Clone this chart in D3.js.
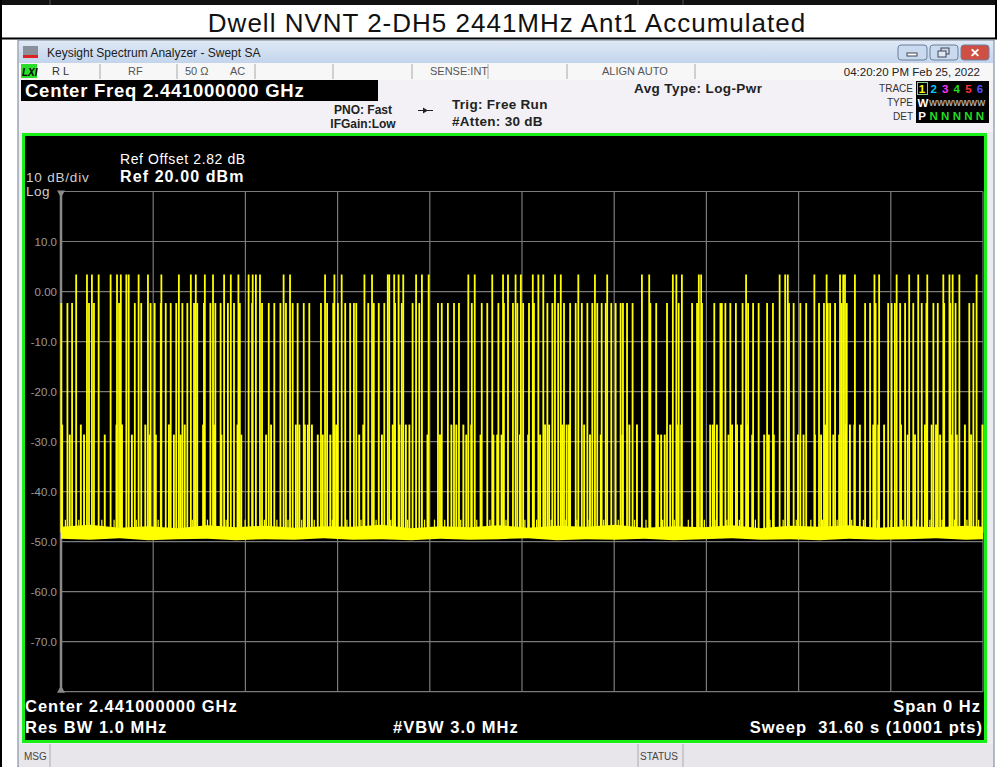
<!DOCTYPE html>
<html>
<head>
<meta charset="utf-8">
<script src="https://cdn.jsdelivr.net/npm/d3@7"></script>
<style>
body { margin: 0; background: #fff; }
svg { display: block; font-family: "Liberation Sans", Arial, sans-serif; }
</style>
</head>
<body>
<div id="chart"></div>
<script>
//////////////////////////////////////////////////////////////////////////////
// Data

var title = "Dwell NVNT 2-DH5 2441MHz Ant1 Accumulated";
var sweepTime = 31.6;            // s, zero span
var refLevel = 20, dbPerDiv = 10, divisions = 10;
var yTicks = [10, 0, -10, -20, -30, -40, -50, -60, -70];
var yTickLabels = ["10.0", "0.00", "-10.0", "-20.0", "-30.0", "-40.0", "-50.0", "-60.0", "-70.0"];

// burst peak levels (dBm)
var levelHigh = 3.4, levelMid = -2.3, levelLowA = -26.6, levelLowB = -28.6;

// burst times (s)
var highPulses = [0.52, 0.89, 1.06, 1.29, 1.70, 1.92, 2.05, 2.24, 2.32, 2.66, 2.98, 3.44, 4.04, 4.45, 4.62,
    4.93, 5.21, 5.59, 5.82, 6.08, 6.43, 6.57, 6.68, 6.82, 7.63, 7.85, 9.05, 9.37, 9.62, 10.40, 10.66,
    11.20, 11.25, 11.42, 11.57, 11.73, 12.17, 12.37, 12.60, 13.96, 14.18, 14.78, 15.15, 15.32, 15.58,
    15.76, 16.17, 16.36, 16.53, 16.93, 17.13, 17.73, 18.30, 18.72, 19.91, 20.16, 20.97, 21.09, 21.28,
    21.86, 21.94, 23.48, 24.63, 24.82, 24.91, 25.82, 26.24, 26.70, 26.81, 26.87, 27.21, 27.88, 28.04,
    28.64, 29.07, 29.38, 29.69, 30.24, 30.45, 30.56, 30.79, 31.38];

var midPulses = [0.01, 0.22, 0.38, 0.96, 1.13, 1.99, 2.53, 2.75, 3.07, 3.21, 3.42, 3.59, 3.76, 3.95, 4.16,
    4.33, 4.56, 4.67, 4.90, 5.12, 5.29, 5.47, 5.72, 5.93, 6.13, 6.55, 6.89, 7.12, 7.31, 7.52, 7.71,
    7.94, 8.11, 8.32, 8.51, 8.91, 9.12, 9.33, 9.49, 9.74, 9.91, 10.04, 10.12, 10.53, 10.72, 10.89,
    11.08, 11.45, 11.68, 12.05, 12.28, 12.92, 13.05, 13.26, 13.47, 13.64, 14.08, 14.42, 14.61, 14.99,
    15.18, 15.49, 15.64, 15.84, 16.04, 16.21, 16.67, 16.84, 17.04, 17.24, 17.45, 17.64, 17.85, 18.04,
    18.21, 18.38, 18.53, 18.67, 18.86, 19.01, 19.18, 19.26, 19.40, 19.59, 20.20, 20.40, 20.77, 21.17,
    21.63, 21.80, 21.97, 22.39, 22.60, 22.65, 22.77, 22.94, 23.13, 23.36, 23.55, 23.72, 23.91, 24.20,
    24.40, 24.95, 25.11, 25.34, 25.54, 25.98, 26.15, 26.28, 26.36, 26.53, 26.76, 26.93, 27.56, 27.73,
    27.92, 28.35, 28.47, 28.58, 28.76, 28.93, 29.21, 29.50, 29.66, 29.90, 30.05, 30.27, 30.48, 30.66,
    31.13, 31.27];

var lowPulsesA = [0.04, 0.68, 1.90, 2.09, 2.89, 3.70, 4.24, 4.87, 5.25, 6.05, 7.20, 8.05, 8.17, 8.36,
    8.46, 8.60, 9.43, 10.36, 11.37, 11.60, 11.82, 11.94, 13.38, 13.55, 13.79, 14.06, 16.59, 16.73,
    17.18, 17.33, 17.41, 17.93, 19.48, 19.74, 20.88, 21.11, 21.26, 22.25, 22.34, 22.48, 23.00, 23.17,
    23.31, 23.51, 26.19, 26.90, 27.04, 27.19, 27.38, 27.84, 28.01, 28.21, 28.79, 29.61, 29.84, 29.99,
    30.98, 31.58];

var lowPulsesB = [0.30, 0.79, 1.50, 2.43, 3.04, 3.25, 3.87, 4.10, 5.50, 6.18, 7.03, 8.80, 8.97, 9.23,
    10.22, 11.00, 12.56, 12.99, 13.89, 14.38, 14.82, 14.95, 15.10, 15.73, 16.01, 16.42, 18.13, 18.50,
    19.24, 20.46, 20.57, 20.69, 22.88, 23.69, 24.10, 24.26, 24.43, 25.26, 25.45, 25.84, 26.05, 26.47,
    26.67, 29.02, 29.27, 30.13, 30.50, 30.70, 31.19];

// small spurs sticking out of the noise floor (s)
var floorSpurs = [0.15, 0.61, 1.40, 1.82, 2.58, 3.33, 3.96, 4.50, 5.02, 5.66, 6.31, 6.97, 7.40, 7.78,
    8.25, 8.68, 9.30, 9.80, 10.28, 10.80, 11.30, 11.88, 12.46, 12.80, 13.15, 13.70, 14.25, 14.70,
    15.25, 15.90, 16.30, 16.80, 17.30, 17.68, 18.10, 18.60, 19.10, 19.66, 20.05, 20.62, 21.02, 21.50,
    22.05, 22.45, 22.82, 23.25, 23.80, 24.30, 24.75, 25.20, 25.70, 26.10, 26.60, 27.10, 27.50, 27.98,
    28.45, 28.85, 29.35, 29.78, 30.20, 30.62, 31.05, 31.45];
var floorSpurLevel = -45.6;

// noise floor band (dBm)
var noiseTimes = [0, 1, 2, 3, 4, 5, 6, 7, 8, 9, 10, 11, 12, 13, 14, 15, 16, 17, 18, 19, 20, 21, 22,
    23, 24, 25, 26, 27, 28, 29, 30, 31, 31.6];
var noiseTop = [-47.0, -46.6, -47.2, -46.9, -47.3, -46.7, -47.1, -46.8, -47.2, -46.9, -47.0, -46.6,
    -47.3, -46.9, -47.1, -46.7, -47.2, -46.8, -47.0, -46.6, -47.2, -46.9, -47.1, -46.7, -47.3, -46.8,
    -47.0, -46.7, -47.2, -46.9, -47.1, -46.8, -47.0];
var noiseBottom = [-49.4, -49.6, -49.3, -49.7, -49.5, -49.4, -49.7, -49.5, -49.6, -49.3, -49.6, -49.5,
    -49.7, -49.4, -49.6, -49.5, -49.3, -49.7, -49.5, -49.6, -49.4, -49.7, -49.5, -49.3, -49.6, -49.5,
    -49.7, -49.4, -49.6, -49.5, -49.3, -49.6, -49.5];

//////////////////////////////////////////////////////////////////////////////
// Layout

var W = 997, H = 767;
var plotL = 61, plotR = 983, plotT = 191.5, plotB = 691.7;

var xScale = d3.scaleLinear().domain([0, sweepTime]).range([plotL, plotR]);
var yScale = d3.scaleLinear().domain([refLevel - dbPerDiv * divisions, refLevel]).range([plotB, plotT]);

var svg = d3.select("#chart").append("svg")
    .attr("width", W)
    .attr("height", H);

function txt(x, y, s, size, opts) {
    opts = opts || {};
    return svg.append("text")
        .attr("x", x).attr("y", y)
        .attr("font-size", size)
        .attr("font-weight", opts.bold ? "bold" : "normal")
        .attr("font-style", opts.italic ? "italic" : "normal")
        .attr("letter-spacing", opts.ls || 0)
        .attr("text-anchor", opts.anchor || "start")
        .attr("fill", opts.fill || "#000")
        .text(s);
}

//////////////////////////////////////////////////////////////////////////////
// Report table around the screenshot

svg.append("rect").attr("x", 0).attr("y", 0).attr("width", W).attr("height", 5).attr("fill", "#111");
[50, 638, 683].forEach(function(x) {
    svg.append("line").attr("x1", x).attr("x2", x).attr("y1", 0).attr("y2", 5).attr("stroke", "#555");
});
svg.append("rect").attr("x", 0).attr("y", 5).attr("width", W).attr("height", 33).attr("fill", "#fff");
svg.append("line").attr("x1", 0).attr("x2", W).attr("y1", 38.5).attr("y2", 38.5).attr("stroke", "#000").attr("stroke-width", 2);
svg.append("line").attr("x1", 1).attr("x2", 1).attr("y1", 0).attr("y2", H).attr("stroke", "#000").attr("stroke-width", 2);
svg.append("line").attr("x1", 996).attr("x2", 996).attr("y1", 0).attr("y2", 39).attr("stroke", "#000").attr("stroke-width", 2);
txt(507, 32, title, 26, { anchor: "middle", fill: "#111", ls: 1 });

//////////////////////////////////////////////////////////////////////////////
// Analyzer window chrome

svg.append("rect").attr("x", 18).attr("y", 40).attr("width", 976).attr("height", 727).attr("fill", "#ecebf0")
    .attr("stroke", "#6f7f94").attr("stroke-width", 1);

var grad = svg.append("defs").append("linearGradient").attr("id", "tbar").attr("x1", 0).attr("x2", 0).attr("y1", 0).attr("y2", 1);
grad.append("stop").attr("offset", "0%").attr("stop-color", "#dfe9f6");
grad.append("stop").attr("offset", "100%").attr("stop-color", "#c3d4eb");
svg.append("rect").attr("x", 19).attr("y", 41).attr("width", 974).attr("height", 22).attr("fill", "url(#tbar)");

// app icon
svg.append("rect").attr("x", 23).attr("y", 46).attr("width", 15).attr("height", 11).attr("fill", "#8a8f99");
svg.append("rect").attr("x", 23).attr("y", 55).attr("width", 15).attr("height", 3).attr("fill", "#d22");
txt(47, 57, "Keysight Spectrum Analyzer - Swept SA", 12, { fill: "#1b1b1b" });

// window buttons
[[898, 29, "#c9d9ee"], [930, 28, "#c9d9ee"], [961, 28, "#cf4f44"]].forEach(function(b) {
    svg.append("rect").attr("x", b[0]).attr("y", 45).attr("width", b[1]).attr("height", 15).attr("rx", 3)
        .attr("fill", b[2]).attr("stroke", "#6d7f9c");
});
svg.append("rect").attr("x", 907).attr("y", 53).attr("width", 10).attr("height", 3).attr("fill", "#fff").attr("stroke", "#445");
svg.append("rect").attr("x", 941).attr("y", 48).attr("width", 8).attr("height", 6).attr("fill", "none").attr("stroke", "#445");
svg.append("rect").attr("x", 938).attr("y", 51).attr("width", 8).attr("height", 6).attr("fill", "#dfe9f6").attr("stroke", "#445");
txt(975, 57, "✕", 12, { anchor: "middle", fill: "#fff", bold: true });

// status row
svg.append("rect").attr("x", 19).attr("y", 63).attr("width", 974).attr("height", 17).attr("fill", "#f7f7f8");
[100, 177, 255, 333, 412, 488, 567, 695].forEach(function(x) {
    svg.append("line").attr("x1", x).attr("x2", x).attr("y1", 64).attr("y2", 79).attr("stroke", "#a8a8a8");
});
svg.append("rect").attr("x", 21).attr("y", 64).attr("width", 16).attr("height", 14).attr("fill", "#2bdc2b");
txt(22, 76, "LXI", 10, { bold: true, italic: true, fill: "#000" });
txt(52, 75, "R L", 11, { fill: "#333" });
txt(128, 75, "RF", 11, { fill: "#555" });
txt(185, 75, "50 Ω", 11, { fill: "#555" });
txt(230, 75, "AC", 11, { fill: "#555" });
txt(430, 75, "SENSE:INT", 11, { fill: "#555" });
txt(602, 75, "ALIGN AUTO", 11, { fill: "#555" });
txt(980, 76, "04:20:20 PM Feb 25, 2022", 11.5, { anchor: "end", fill: "#222" });

// settings panel
svg.append("rect").attr("x", 19).attr("y", 80).attr("width", 974).attr("height", 52).attr("fill", "#f3f1f5");
svg.append("rect").attr("x", 21).attr("y", 80).attr("width", 357).attr("height", 21).attr("fill", "#000");
txt(25, 97, "Center Freq 2.441000000 GHz", 18.5, { bold: true, fill: "#fff", ls: 0.75 });
txt(363, 114, "PNO: Fast", 12, { anchor: "middle", bold: true, fill: "#222" });
txt(363, 128, "IFGain:Low", 12, { anchor: "middle", bold: true, fill: "#222" });
svg.append("line").attr("x1", 418).attr("x2", 433).attr("y1", 110.5).attr("y2", 110.5).attr("stroke", "#222");
svg.append("path").attr("d", "M423,107.5 L428,110.5 L423,113.5 Z").attr("fill", "#222");
txt(452, 109, "Trig: Free Run", 13.5, { bold: true, fill: "#222", ls: 0.3 });
txt(452, 126, "#Atten: 30 dB", 13.5, { bold: true, fill: "#222", ls: 0.3 });
txt(634, 93, "Avg Type: Log-Pwr", 13.5, { bold: true, fill: "#222", ls: 0.4 });
txt(913, 92, "TRACE", 10, { anchor: "end", fill: "#333" });
txt(913, 106, "TYPE", 10, { anchor: "end", fill: "#333" });
txt(913, 120, "DET", 10, { anchor: "end", fill: "#333" });

// trace legend box
var traceNums = ["1", "2", "3", "4", "5", "6"];
var traceColors = ["#ffff00", "#00c8ff", "#ff33ff", "#22dd22", "#ff3333", "#5555ff"];
var traceDet = ["P", "N", "N", "N", "N", "N"];
var legX = d3.scalePoint().domain(traceNums).range([922, 980]);
svg.append("rect").attr("x", 916).attr("y", 81).attr("width", 73).attr("height", 42).attr("fill", "#000");
svg.append("rect").attr("x", 917.5).attr("y", 82.5).attr("width", 10).attr("height", 12).attr("fill", "none").attr("stroke", "#8c8")
    .attr("stroke-width", 1);
traceNums.forEach(function(n, i) {
    txt(legX(n), 93, n, 11.5, { anchor: "middle", bold: true, fill: traceColors[i] });
    txt(legX(n), 120, traceDet[i], 11.5, { anchor: "middle", bold: true, fill: i === 0 ? "#fff" : "#22dd22" });
});
txt(923, 107, "W", 11.5, { anchor: "middle", bold: true, fill: "#fff" });
txt(929, 106, "WWWWWWW", 8.5, { fill: "#aaa", bold: true });

//////////////////////////////////////////////////////////////////////////////
// Display area

svg.append("rect").attr("x", 23.5).attr("y", 134.5).attr("width", 962).attr("height", 607)
    .attr("fill", "#000").attr("stroke", "#18f018").attr("stroke-width", 3);

// grid
var gridColor = "#7a7a7a";
var grid = svg.append("g");
grid.selectAll(".h").data(d3.range(0, divisions + 1)).enter().append("line")
    .attr("x1", plotL).attr("x2", plotR)
    .attr("y1", function(d) { return yScale(refLevel - d * dbPerDiv); })
    .attr("y2", function(d) { return yScale(refLevel - d * dbPerDiv); })
    .attr("stroke", gridColor).attr("stroke-width", 1.2);
grid.selectAll(".v").data(d3.range(0, divisions + 1)).enter().append("line")
    .attr("x1", function(d) { return xScale(d * sweepTime / divisions); })
    .attr("x2", function(d) { return xScale(d * sweepTime / divisions); })
    .attr("y1", plotT).attr("y2", plotB)
    .attr("stroke", gridColor).attr("stroke-width", 1.2);
svg.append("line").attr("x1", plotL).attr("x2", plotL).attr("y1", plotT).attr("y2", plotB)
    .attr("stroke", "#8a8a8a").attr("stroke-width", 2.5);
svg.append("path").attr("d", "M" + (plotL - 4) + "," + (plotT - 1) + " L" + (plotL + 4) + "," + (plotT - 1) + " L" + plotL + "," + (plotT + 6) + " Z")
    .attr("fill", "#8a8a8a");
svg.append("path").attr("d", "M" + (plotL - 4) + "," + (plotB + 1) + " L" + (plotL + 4) + "," + (plotB + 1) + " L" + plotL + "," + (plotB - 6) + " Z")
    .attr("fill", "#8a8a8a");

// y labels
svg.selectAll(".ylab").data(yTicks).enter().append("text")
    .attr("x", plotL - 4)
    .attr("y", function(d) { return yScale(d); })
    .attr("dy", "0.35em")
    .attr("text-anchor", "end")
    .attr("font-size", 11.5)
    .attr("fill", "#9a9a9a")
    .text(function(d, i) { return yTickLabels[i]; });

txt(120, 164, "Ref Offset 2.82 dB", 14, { fill: "#fff", ls: 0.6 });
txt(120, 182, "Ref 20.00 dBm", 16, { bold: true, fill: "#fff", ls: 1.1 });
txt(26, 182, "10 dB/div", 13.5, { fill: "#cfcfcf", ls: 0.8 });
txt(26, 196, "Log", 13.5, { fill: "#cfcfcf", ls: 0.5 });

//////////////////////////////////////////////////////////////////////////////
// Trace

var yellow = "#ffff00";
var floorLevel = -48.2;

var noiseData = noiseTimes.map(function(t, i) { return { t: t, hi: noiseTop[i], lo: noiseBottom[i] }; });
svg.append("path").datum(noiseData)
    .attr("d", d3.area()
        .x(function(d) { return xScale(d.t); })
        .y0(function(d) { return yScale(d.lo); })
        .y1(function(d) { return yScale(d.hi); }))
    .attr("fill", yellow);

function drawPulses(times, level, width) {
    svg.append("g").selectAll("line").data(times).enter().append("line")
        .attr("x1", function(d) { return xScale(d); })
        .attr("x2", function(d) { return xScale(d); })
        .attr("y1", yScale(floorLevel))
        .attr("y2", yScale(level))
        .attr("stroke", yellow)
        .attr("stroke-width", width);
}
drawPulses(floorSpurs, floorSpurLevel, 1.2);
drawPulses(lowPulsesB, levelLowB, 1.9);
drawPulses(lowPulsesA, levelLowA, 1.9);
drawPulses(midPulses, levelMid, 1.8);
drawPulses(highPulses, levelHigh, 1.8);

// bottom annotations
txt(25, 712, "Center 2.441000000 GHz", 16.5, { bold: true, fill: "#fff", ls: 1 });
txt(25, 733, "Res BW 1.0 MHz", 16.5, { bold: true, fill: "#fff", ls: 1 });
txt(393, 733, "#VBW 3.0 MHz", 16.5, { bold: true, fill: "#fff", ls: 1 });
txt(981, 712, "Span 0 Hz", 16.5, { anchor: "end", bold: true, fill: "#fff", ls: 1 });
txt(983, 733, "Sweep\u00a0 31.60 s (10001 pts)", 16.5, { anchor: "end", bold: true, fill: "#fff", ls: 1 });

//////////////////////////////////////////////////////////////////////////////
// Message bar

svg.append("rect").attr("x", 19).attr("y", 744).attr("width", 974).attr("height", 23).attr("fill", "#e8e6ea");
[50, 638, 683].forEach(function(x) {
    svg.append("line").attr("x1", x).attr("x2", x).attr("y1", 744).attr("y2", 767).attr("stroke", "#aaa");
});
txt(24, 760, "MSG", 10, { fill: "#444" });
txt(640, 760, "STATUS", 10, { fill: "#444" });
</script>
</body>
</html>
